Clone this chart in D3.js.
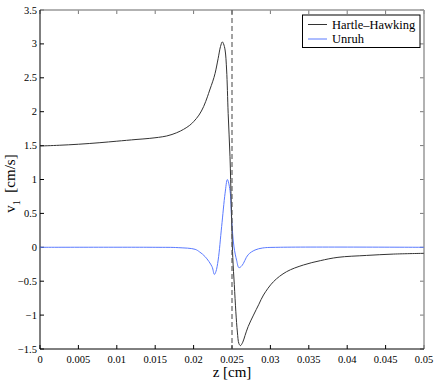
<!DOCTYPE html>
<meta charset="utf-8">
<style>
body { margin: 0; background: #fff; }
.line { fill: none; stroke-width: 1px; }
</style>
<body>
<script src="https://d3js.org/d3.v7.min.js"></script>
<script>

// data
var hhZ = [0, 0.0025, 0.005, 0.0078, 0.01, 0.0125, 0.0143, 0.0165, 0.0178, 0.0187, 0.0195,
  0.02, 0.0207, 0.0213, 0.0218, 0.0221, 0.0225, 0.0228, 0.0232, 0.0235, 0.02374,
  0.0239, 0.0241, 0.0243, 0.0245, 0.02474, 0.0249,
  0.0251, 0.0253, 0.0255, 0.0257, 0.0259, 0.0261, 0.0264, 0.0267, 0.0271, 0.0278,
  0.0285, 0.0291, 0.0304, 0.0321, 0.0343, 0.0365, 0.0388, 0.0425, 0.046, 0.05];
var hhV = [1.494, 1.505, 1.52, 1.543, 1.565, 1.59, 1.607, 1.642, 1.69, 1.74, 1.80,
  1.853, 1.95, 2.074, 2.22, 2.32, 2.45, 2.566, 2.787, 2.96, 3.03,
  3.0, 2.91, 2.615, 1.976, 1.336, 0.65,
  -0.15, -0.55, -0.95, -1.25, -1.42, -1.45, -1.40, -1.30, -1.17, -1.0,
  -0.84, -0.704, -0.507, -0.36, -0.261, -0.197, -0.148, -0.12, -0.10, -0.089];

var unZ = [0, 0.015, 0.018, 0.0202, 0.0208, 0.0215, 0.0224, 0.0227, 0.0229, 0.0232,
  0.02365, 0.0241, 0.0244, 0.02474, 0.02496, 0.02526, 0.0256, 0.0259, 0.0263, 0.0271,
  0.028, 0.029, 0.031, 0.05];
var unV = [0, 0, -0.005, -0.03, -0.07, -0.138, -0.286, -0.40, -0.36, -0.187,
  0.305, 0.797, 1.0, 0.84, 0.398, 0.005, -0.19, -0.30, -0.27, -0.11,
  -0.04, -0.01, 0, 0];

var xTicks = [0, 0.005, 0.01, 0.015, 0.02, 0.025, 0.03, 0.035, 0.04, 0.045, 0.05];
var yTicks = [-1.5, -1, -0.5, 0, 0.5, 1, 1.5, 2, 2.5, 3, 3.5];
var dashZ = 0.025;
var seriesNames = ["Hartle\u2013Hawking", "Unruh"];
var seriesColors = ["#333", "#5a7aff"];

(function() {
var W = 436, H = 382;
var m = {left: 40, right: 424, top: 10, bottom: 349};

// pick the first serif face that is really installed
function hasFont(name) {
  var c = document.createElement("canvas").getContext("2d");
  var s = "mmmmmwwwiiilll0.005";
  c.font = "20px monospace";
  var a = c.measureText(s).width;
  c.font = "20px '" + name + "', monospace";
  return c.measureText(s).width !== a;
}
var serif = ["Liberation Serif", "Times New Roman", "DejaVu Serif", "Tinos", "Noto Serif"]
  .filter(hasFont)[0] || "serif";

var x = d3.scaleLinear().domain([0, 0.05]).range([m.left, m.right]);
var y = d3.scaleLinear().domain([-1.5, 3.5]).range([m.bottom, m.top]);

var svg = d3.select("body").append("svg")
    .attr("width", W)
    .attr("height", H)
    .style("font-family", "'" + serif + "', serif");

function fmt(d) {
  return String(d).replace("-", "\u2212");
}

// ticks inside the box, on all four sides
var tl = 4;
var g = svg.append("g");
xTicks.forEach(function(t) {
  g.append("line").attr("x1", x(t)).attr("x2", x(t)).attr("y1", m.bottom).attr("y2", m.bottom - tl)
    .attr("stroke", "#000");
  g.append("line").attr("x1", x(t)).attr("x2", x(t)).attr("y1", m.top).attr("y2", m.top + tl)
    .attr("stroke", "#777");
  g.append("text").attr("x", x(t)).attr("y", m.bottom + 14)
    .attr("text-anchor", "middle").style("font-size", "10.5px").text(fmt(t));
});
yTicks.forEach(function(t) {
  g.append("line").attr("x1", m.left).attr("x2", m.left + tl).attr("y1", y(t)).attr("y2", y(t))
    .attr("stroke", "#000");
  g.append("line").attr("x1", m.right).attr("x2", m.right - tl).attr("y1", y(t)).attr("y2", y(t))
    .attr("stroke", "#777");
  g.append("text").attr("x", m.left - 3).attr("y", y(t) + 3.5)
    .attr("text-anchor", "end").style("font-size", "10.5px").text(fmt(t));
});

// box
svg.append("line").attr("x1", m.left).attr("x2", m.right).attr("y1", m.top).attr("y2", m.top)
  .attr("stroke", "#999").attr("stroke-width", 1.5);
svg.append("line").attr("x1", m.right).attr("x2", m.right).attr("y1", m.top).attr("y2", m.bottom)
  .attr("stroke", "#999").attr("stroke-width", 1.5);
svg.append("line").attr("x1", m.left).attr("x2", m.right).attr("y1", m.bottom).attr("y2", m.bottom)
  .attr("stroke", "#000");
svg.append("line").attr("x1", m.left).attr("x2", m.left).attr("y1", m.top).attr("y2", m.bottom)
  .attr("stroke", "#000");

var line = d3.line()
    .x(function(d) { return x(d[0]); })
    .y(function(d) { return y(d[1]); })
    .curve(d3.curveCatmullRom.alpha(0.5));

var hh = d3.zip(hhZ, hhV);
var un = d3.zip(unZ, unV);

svg.append("path").datum(un).attr("class", "line")
  .style("stroke", seriesColors[1]).attr("d", line);
svg.append("path").datum(hh).attr("class", "line")
  .style("stroke", seriesColors[0]).attr("d", line);

// dashed marker
svg.append("line").attr("x1", x(dashZ)).attr("x2", x(dashZ))
  .attr("y1", m.top).attr("y2", m.bottom)
  .attr("stroke", "#555").attr("stroke-width", 1.1)
  .attr("stroke-dasharray", "5,3");

// axis labels
svg.append("text").attr("x", (m.left + m.right) / 2).attr("y", 377)
  .attr("text-anchor", "middle").style("font-size", "15px").text("z [cm]");

var yl = svg.append("text")
  .attr("transform", "translate(15," + ((m.top + m.bottom) / 2 + 4) + ") rotate(-90)")
  .attr("text-anchor", "middle").style("font-size", "15px");
yl.append("tspan").text("v");
yl.append("tspan").attr("dy", 5).style("font-size", "10px").text("1");
yl.append("tspan").attr("dy", -5).text("\u00a0\u00a0[cm/s]");

// legend
var lg = svg.append("g");
lg.append("rect").attr("x", 302.5).attr("y", 15).attr("width", 117.5).attr("height", 32.5)
  .attr("fill", "#fff").attr("stroke", "#000");
seriesNames.forEach(function(n, i) {
  var ly = 24.5 + i * 14.5;
  lg.append("line").attr("x1", 308).attr("x2", 327).attr("y1", ly).attr("y2", ly)
    .attr("stroke", seriesColors[i]);
  lg.append("text").attr("x", 332).attr("y", ly + 4)
    .style("font-size", "12.5px").text(n);
});
})();

</script>
</body>
